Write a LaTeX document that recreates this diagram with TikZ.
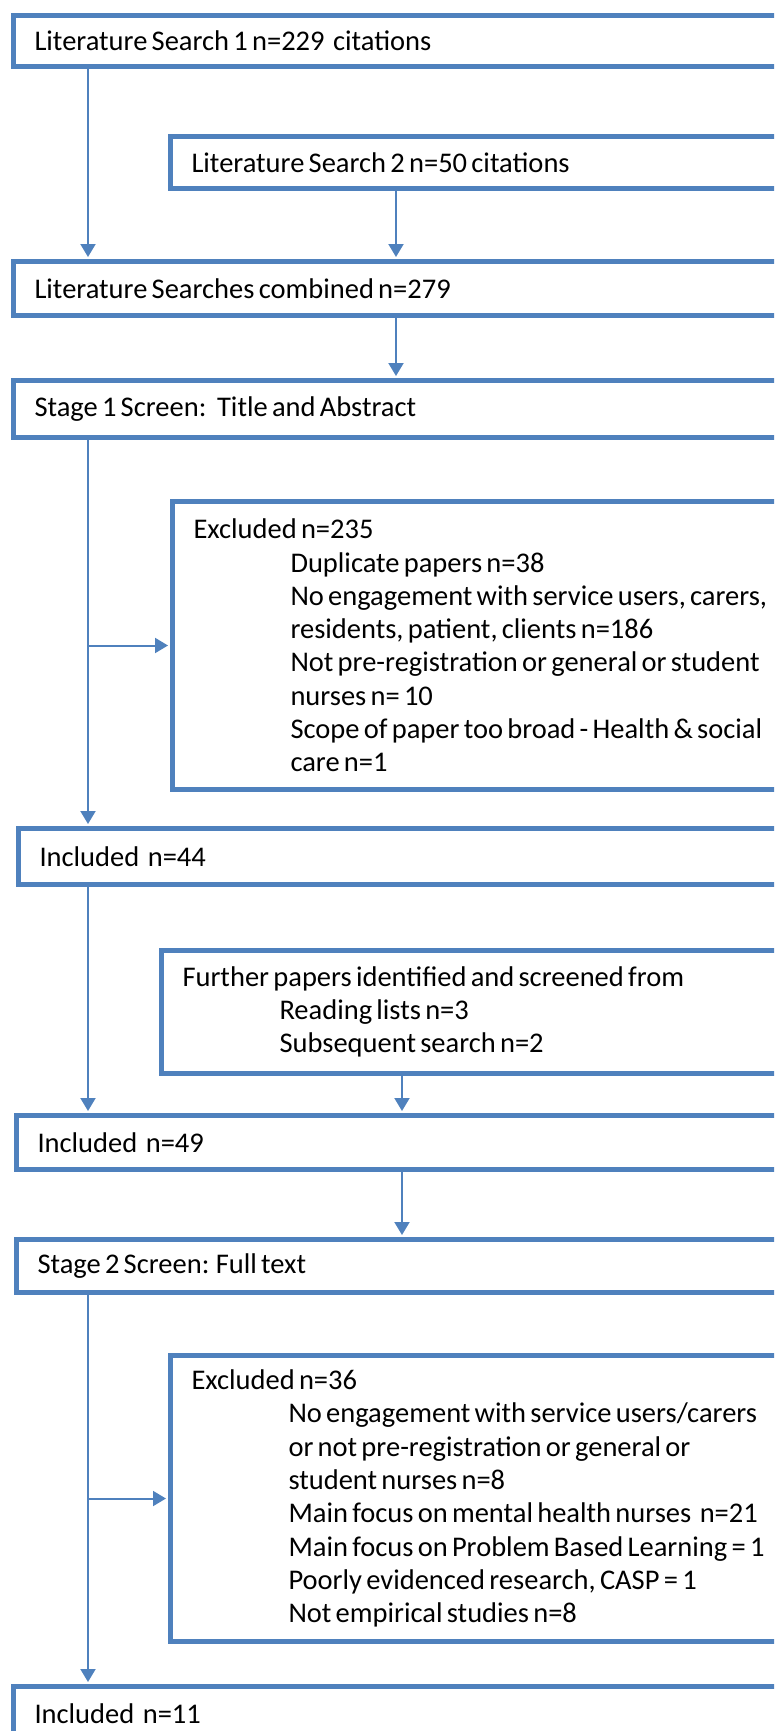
\documentclass[tikz,border=0pt]{standalone}
\usepackage{fontspec}
\setmainfont{Carlito}[WordSpace=0.66]
\usetikzlibrary{arrows.meta}
\definecolor{boxblue}{RGB}{79,129,189}
\newcommand{\flowfont}{\fontsize{28.5}{33.3}\selectfont}
\tikzset{
flowbox/.style={draw=boxblue, line width=5pt, anchor=north west, align=flush left, text width=820pt, inner xsep=21pt, inner ysep=0pt, font=\flowfont},
flowarrow/.style={draw=boxblue, line width=2pt, -{Triangle[length=13pt,width=15pt]}, shorten >=2pt}
}
\newcommand{\ind}{\hspace*{97pt}}
\begin{document}
\begin{tikzpicture}[x=1pt,y=-1pt]
\useasboundingbox (0,0) rectangle (774,1731);
\clip (0,0) rectangle (774,1731);
\coordinate (lane) at (88,0);
\coordinate (midtop) at (396,0);
\coordinate (midbot) at (402,0);
\node [flowbox, minimum height=51pt] (search1) at (11,13) {Literature Search 1 n=229~ citations};
\node [flowbox, minimum height=52pt] (search2) at (168,134) {Literature Search 2 n=50 citations};
\node [flowbox, minimum height=54pt] (combined) at (11,259) {Literature Searches combined n=279};
\node [flowbox, minimum height=57pt] (stage1) at (11,378) {Stage 1 Screen:~ Title and Abstract};
\node [flowbox, minimum height=288pt] (excl1) at (170,499) {Excluded n=235\\
\ind Duplicate papers n=38\\
\ind No engagement with service users, carers,\\
\ind residents, patient, clients n=186\\
\ind Not pre-registration or general or student\\
\ind nurses n= 10\\
\ind Scope of paper too broad - Health \& social\\
\ind care n=1};
\node [flowbox, minimum height=56pt] (incl44) at (16,826) {Included~ n=44};
\node [flowbox, minimum height=123pt] (further) at (159,948) {Further papers identified and screened from\\
\ind Reading lists n=3\\
\ind Subsequent search n=2};
\node [flowbox, minimum height=54pt] (incl49) at (14,1113) {Included~ n=49};
\node [flowbox, minimum height=53pt] (stage2) at (14,1237) {Stage 2 Screen: Full text};
\node [flowbox, minimum height=286pt] (excl2) at (168,1353) {Excluded n=36\\
\ind No engagement with service users/carers\\
\ind or not pre-registration or general or\\
\ind student nurses n=8\\
\ind Main focus on mental health nurses~ n=21\\
\ind Main focus on Problem Based Learning = 1\\
\ind Poorly evidenced research, CASP = 1\\
\ind Not empirical studies n=8};
\node [flowbox, minimum height=54pt] (incl11) at (11,1684) {Included~ n=11};
\draw [flowarrow] (search1.south -| lane) -- (combined.north -| lane);
\draw [flowarrow] (search2.south -| midtop) -- (combined.north -| midtop);
\draw [flowarrow] (combined.south -| midtop) -- (stage1.north -| midtop);
\draw [flowarrow] (stage1.south -| lane) -- (incl44.north -| lane);
\draw [flowarrow] (excl1.west -| lane) -- (excl1.west);
\draw [flowarrow] (incl44.south -| lane) -- (incl49.north -| lane);
\draw [flowarrow] (further.south -| midbot) -- (incl49.north -| midbot);
\draw [flowarrow] (incl49.south -| midbot) -- (stage2.north -| midbot);
\draw [flowarrow] (stage2.south -| lane) -- (incl11.north -| lane);
\draw [flowarrow] (excl2.west -| lane) -- (excl2.west);
\end{tikzpicture}
\end{document}
